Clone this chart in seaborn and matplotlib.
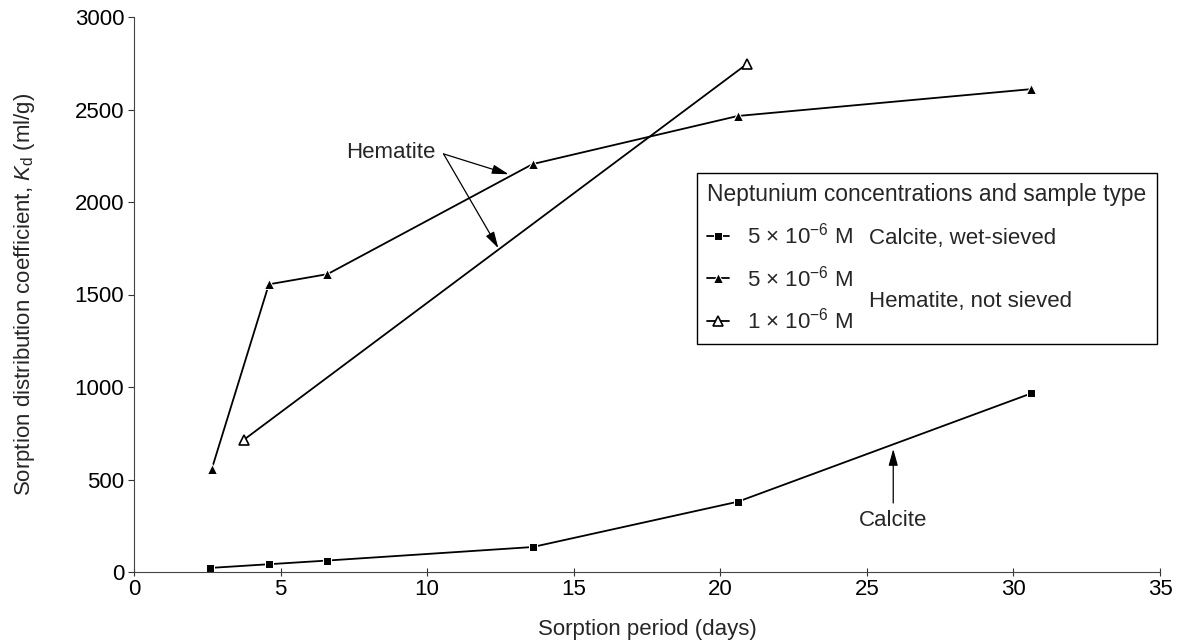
import matplotlib
matplotlib.use("Agg")
import matplotlib.pyplot as plt
import seaborn as sns

# values
calcite_days = [2.6, 4.6, 6.6, 13.6, 20.6, 30.6]
calcite_kd = [22, 42, 62, 135, 380, 965]
hem5_days = [2.65, 4.6, 6.6, 13.6, 20.6, 30.6]
hem5_kd = [555, 1555, 1610, 2205, 2465, 2610]
hem1_days = [3.75, 20.9]
hem1_kd = [715, 2745]

x_ticks = [0, 5, 10, 15, 20, 25, 30, 35]
y_ticks = [0, 500, 1000, 1500, 2000, 2500, 3000]

legend_labels = ["5 \u00d7 10$^{-6}$ M", "5 \u00d7 10$^{-6}$ M", "1 \u00d7 10$^{-6}$ M"]
legend_title = "Neptunium concentrations and sample type"

sns.set_style("ticks")
plt.rcParams["font.family"] = ["Liberation Sans", "DejaVu Sans"]
plt.rcParams["mathtext.fontset"] = "custom"
plt.rcParams["mathtext.rm"] = "Liberation Sans"
plt.rcParams["mathtext.it"] = "Liberation Sans:italic"
plt.rcParams["mathtext.bf"] = "Liberation Sans:bold"

FS = 16
W, H = 1188, 641
fig = plt.figure(figsize=(W / 100, H / 100), dpi=100)
ax = fig.add_axes([134 / W, 69 / H, 1026 / W, 555 / H])

line_kw = dict(color="black", linewidth=1.3, ax=ax)
sns.lineplot(x=calcite_days, y=calcite_kd, marker="s", markersize=5.5, **line_kw)
sns.lineplot(x=hem5_days, y=hem5_kd, marker="^", markersize=7.5, **line_kw)
sns.lineplot(x=hem1_days, y=hem1_kd, marker="^", markersize=7, markerfacecolor="white",
             markeredgecolor="black", markeredgewidth=1.2, **line_kw)

ax.set_xlim(0, 35)
ax.set_ylim(0, 3000)
ax.set_xticks(x_ticks)
ax.set_yticks(y_ticks)
ax.tick_params(axis="both", labelsize=FS, colors="#333333", labelcolor="black", width=0.8)
ax.tick_params(axis="x", direction="inout", length=6, pad=2)
ax.tick_params(axis="y", direction="out", length=4, pad=3)
sns.despine(ax=ax)
for side in ["left", "bottom"]:
    ax.spines[side].set_color("#444444")
    ax.spines[side].set_linewidth(0.8)

ax.set_xlabel("Sorption period (days)", fontsize=FS, labelpad=14)
ax.set_ylabel("Sorption distribution coefficient, $\\mathit{K}_\\mathrm{d}$ (ml/g)",
              fontsize=FS, labelpad=27)

# annotations
arrow = dict(arrowstyle="-|>,head_length=1.0,head_width=0.28", color="black",
             lw=0.9, shrinkA=0, shrinkB=0)
ax.text(8.77, 2270, "Hematite", fontsize=FS, ha="center", va="center")
ax.annotate("", xy=(12.78, 2150), xytext=(10.56, 2260), arrowprops=arrow)
ax.annotate("", xy=(12.43, 1750), xytext=(10.56, 2260), arrowprops=arrow)
ax.text(25.9, 277, "Calcite", fontsize=FS, ha="center", va="center")
ax.annotate("", xy=(25.9, 665), xytext=(25.9, 373), arrowprops=arrow)

# legend
handles = ax.get_lines()[:3]
leg = ax.legend(handles=handles, labels=legend_labels, title=legend_title,
                loc="upper left", bbox_to_anchor=(0.549, 0.719), borderaxespad=0,
                frameon=True, fancybox=False, edgecolor="black", framealpha=1,
                fontsize=FS, title_fontsize=16.4, handlelength=1.0,
                handletextpad=0.8, labelspacing=0.75, alignment="left",
                borderpad=0.45)
leg.get_frame().set_linewidth(1.0)

fig.canvas.draw()
r = fig.canvas.get_renderer()
texts = leg.get_texts()
bb0 = texts[0].get_window_extent(r)
base = [t.get_transform().transform(t.get_position())[1] for t in texts]
x_txt = (bb0.x1 + 16) / W
fig.text(x_txt, base[0] / H, "Calcite, wet-sieved", fontsize=FS, va="baseline")
fig.text(x_txt, (base[1] + base[2]) / 2 / H, "Hematite, not sieved",
         fontsize=FS, va="baseline")

fig.savefig("out.png", dpi=100)
